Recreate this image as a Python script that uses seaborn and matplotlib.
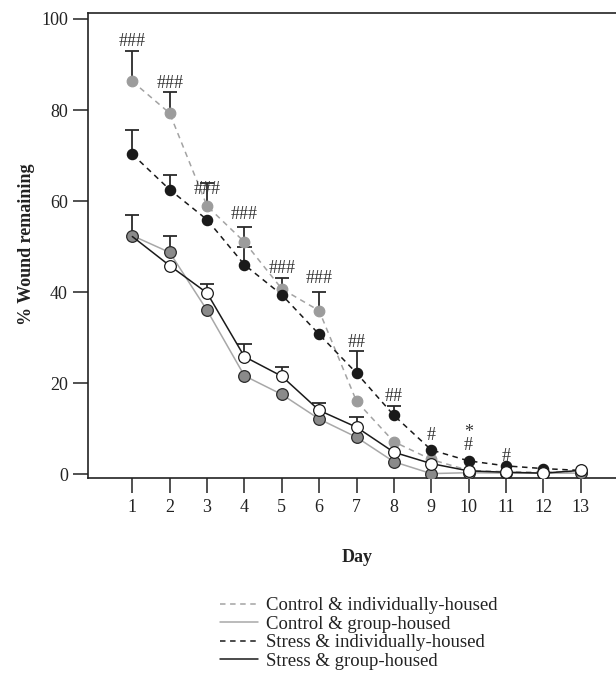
import numpy as np
import pandas as pd
import matplotlib
matplotlib.use("Agg")
import matplotlib.pyplot as plt
from matplotlib.lines import Line2D
import seaborn as sns

# ---------------- data ----------------
days = list(range(1, 14))
groups = ["Control & individually-housed", "Control & group-housed",
          "Stress & individually-housed", "Stress & group-housed"]

ctrl_indiv = [86.3, 79.3, 58.9, 51.0, 40.7, 35.9, 16.0, 7.1, 3.2, 0.8, 0.5, 0.4, 0.5]
ctrl_group = [52.4, 48.7, 36.0, 21.6, 17.5, 12.1, 8.1, 2.7, 0.1, 0.3, 0.2, 0.2, 0.2]
stress_indiv = [70.3, 62.5, 55.9, 46.0, 39.4, 30.7, 22.2, 12.9, 5.3, 2.9, 1.8, 1.2, 0.8]
stress_group = [52.2, 45.8, 39.8, 25.8, 21.5, 14.0, 10.3, 4.8, 2.3, 0.7, 0.4, 0.2, 0.8]

nan = np.nan
ctrl_indiv_err = [6.7, 4.7, 5.0, 3.3, 2.4, 4.0, nan, nan, nan, nan, nan, nan, nan]
ctrl_group_err = [4.5, 3.7, nan, nan, nan, nan, nan, nan, nan, nan, nan, nan, nan]
stress_indiv_err = [5.2, 3.3, nan, 3.8, nan, nan, 4.8, 2.0, nan, nan, nan, nan, nan]
stress_group_err = [nan, nan, 2.0, 2.8, 2.0, 1.7, 2.3, nan, nan, nan, nan, nan, nan]

sig_days = [1, 2, 3, 4, 5, 6, 7, 8, 9, 10, 11]
sig_text = ["###", "###", "###", "###", "###", "###", "##", "##", "#", "*\n#", "#"]
sig_y = [95.0, 85.8, 62.5, 57.0, 45.2, 43.0, 28.9, 17.0, 8.5, 7.7, 3.9]

values = [ctrl_indiv, ctrl_group, stress_indiv, stress_group]
errors = [ctrl_indiv_err, ctrl_group_err, stress_indiv_err, stress_group_err]

df = pd.DataFrame({
    "day": np.tile(days, len(groups)),
    "value": np.concatenate(values),
    "err": np.concatenate(errors),
    "group": np.repeat(groups, len(days)),
})

# ---------------- styles ----------------
DASH = (0, (3.6, 3.0))
styles = {
    groups[0]: dict(lc="#a3a3a3", ls=DASH, mfc="#9c9c9c", mec="#9c9c9c", ms=7.6, z=4, every=None),
    groups[1]: dict(lc="#a8a8a8", ls="-", mfc="#8a8a8a", mec="#2a2a2a", ms=8.4, z=5, every=None),
    groups[2]: dict(lc="#1a1a1a", ls=DASH, mfc="#1a1a1a", mec="#1a1a1a", ms=7.4, z=4, every=None),
    groups[3]: dict(lc="#1a1a1a", ls="-", mfc="white", mec="#1a1a1a", ms=8.4, z=6, every=slice(1, None)),
}

sns.set_theme(style="white")
plt.rcParams["font.family"] = ["Liberation Serif", "DejaVu Serif"]

W, H = 616, 695
fig = plt.figure(figsize=(W / 100, H / 100), dpi=100)
left, right, top, bottom = 88, 616, 13.3, 477.7
ax = fig.add_axes([left / W, (H - bottom) / H, (right - left) / W, (bottom - top) / H])

cap = 0.19
for g in groups:
    sub = df[df.group == g]
    st = styles[g]
    # upper error bars
    e = sub.dropna(subset=["err"])
    ax.vlines(e.day, e.value, e.value + e.err, color="#2a2a2a", lw=1.3, zorder=2)
    ax.hlines(e.value + e.err, e.day - cap, e.day + cap, color="#2a2a2a", lw=1.3, zorder=2)
    kw = dict(marker="o", markersize=st["ms"], markerfacecolor=st["mfc"],
              markeredgecolor=st["mec"], markeredgewidth=0.9)
    if st["every"] is not None:
        kw["markevery"] = st["every"]
    sns.lineplot(data=sub, x="day", y="value", ax=ax, color=st["lc"],
                 linestyle=st["ls"], lw=1.1, zorder=st["z"], legend=False,
                 errorbar=None, **kw)

for d, t, y in zip(sig_days, sig_text, sig_y):
    ax.text(d, y, t, ha="center", va="center", fontsize=13, color="#333333",
            zorder=7, linespacing=0.65, multialignment="center")

ax.set_xlim(-0.186, 13.945)
ax.set_ylim(-0.8, 101.25)
ax.set_xticks(days)
ax.set_yticks(range(0, 101, 20))
ax.tick_params(axis="both", direction="out", length=10.5, width=1.1, colors="#222222",
               labelsize=13, bottom=True, left=True)
ax.tick_params(axis="x", pad=5)
ax.tick_params(axis="y", pad=4)
for s in ["left", "bottom", "top"]:
    ax.spines[s].set_visible(True)
    ax.spines[s].set_color("#222222")
    ax.spines[s].set_linewidth(1.2)
ax.spines["right"].set_visible(False)

ax.set_xlabel("Day", fontsize=13, fontweight="bold", color="#222222")
ax.xaxis.set_label_coords(0.51, -0.154)
ax.set_ylabel("% Wound remaining", fontsize=13, fontweight="bold", color="#222222", va="center")
ax.yaxis.set_label_coords(-0.117, 0.503)

handles = [Line2D([0], [0], color=styles[g]["lc"], linestyle=styles[g]["ls"], lw=1.1) for g in groups]
fig.legend(handles, groups, loc="upper left", bbox_to_anchor=(220 / W, 1 - 597 / H),
           frameon=False, fontsize=13.5, borderpad=0, borderaxespad=0, labelspacing=0.08,
           handlelength=2.0, handletextpad=0.45, labelcolor="#222222")

fig.savefig("out.png", dpi=100)
